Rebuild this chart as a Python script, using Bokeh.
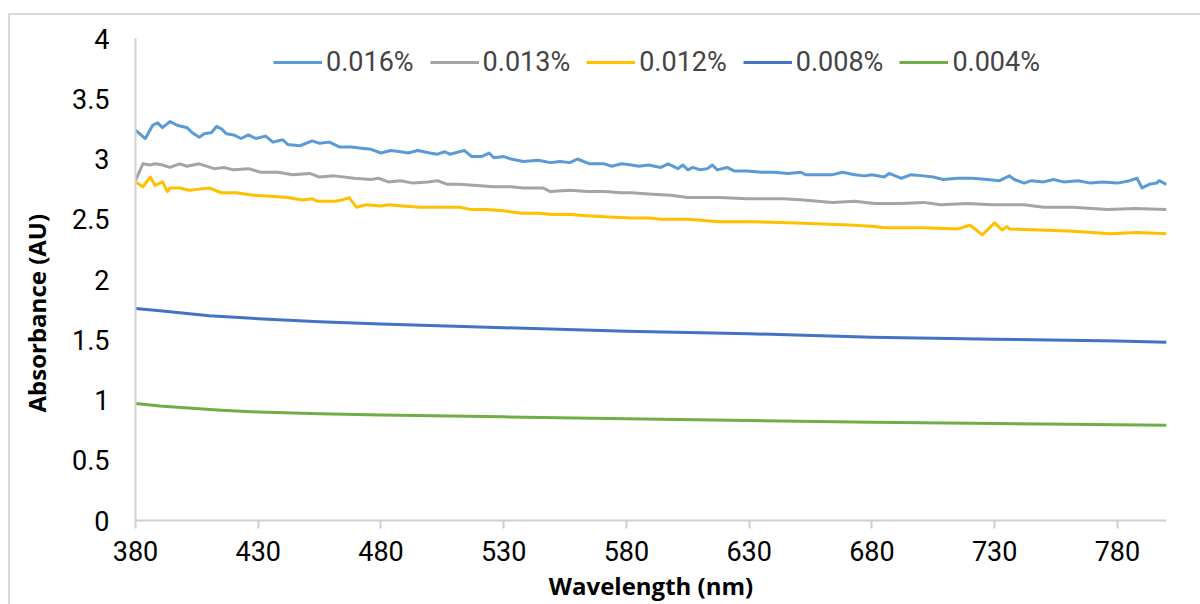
from bokeh.plotting import figure
from bokeh.models import FixedTicker, Legend, LegendItem, Title, Range1d
from bokeh.embed import file_html
from bokeh.resources import INLINE

# ---- data ----
series_names = ["0.016%", "0.013%", "0.012%", "0.008%", "0.004%"]
series_colors = ["#5B9BD5", "#A5A5A5", "#FFC000", "#4472C4", "#70AD47"]
x_ticks = [380, 430, 480, 530, 580, 630, 680, 730, 780]
y_ticks = [0, 0.5, 1, 1.5, 2, 2.5, 3, 3.5, 4]

wl_016 = [380, 384, 387, 389, 391, 394, 397, 401, 403, 406, 408, 411, 413, 415, 417, 420, 423, 426, 429, 433,
          436, 440, 442, 447, 452, 455, 459, 463, 468, 472, 476, 480, 484, 488, 491, 495, 500, 503, 506, 508,
          512, 514, 517, 521, 524, 526, 530, 533, 538, 544, 549, 553, 557, 560, 565, 571, 574, 578, 582, 585,
          589, 594, 597, 601, 603, 605, 607, 610, 613, 615, 617, 621, 624, 629, 635, 640, 646, 651, 653, 660,
          664, 668, 673, 677, 680, 685, 687, 692, 696, 701, 705, 709, 715, 721, 727, 732, 736, 738, 742, 745,
          750, 754, 758, 764, 769, 774, 780, 785, 788, 790, 793, 796, 797, 800]
ab_016 = [3.24, 3.17, 3.28, 3.30, 3.26, 3.31, 3.28, 3.26, 3.22, 3.18, 3.21, 3.22, 3.27, 3.25, 3.21, 3.20, 3.17, 3.20, 3.17, 3.19,
          3.14, 3.16, 3.12, 3.11, 3.15, 3.13, 3.14, 3.10, 3.10, 3.09, 3.08, 3.05, 3.07, 3.06, 3.05, 3.07, 3.05, 3.04, 3.06, 3.04,
          3.06, 3.07, 3.02, 3.02, 3.05, 3.01, 3.02, 3.00, 2.98, 2.99, 2.97, 2.98, 2.97, 3.00, 2.96, 2.96, 2.94, 2.96, 2.95, 2.94,
          2.95, 2.93, 2.96, 2.92, 2.95, 2.91, 2.93, 2.91, 2.92, 2.95, 2.91, 2.93, 2.90, 2.90, 2.89, 2.89, 2.88, 2.89, 2.87, 2.87,
          2.87, 2.89, 2.87, 2.86, 2.87, 2.85, 2.88, 2.84, 2.87, 2.86, 2.85, 2.83, 2.84, 2.84, 2.83, 2.82, 2.86, 2.83, 2.80, 2.82,
          2.81, 2.83, 2.81, 2.82, 2.80, 2.81, 2.80, 2.82, 2.84, 2.76, 2.79, 2.80, 2.82, 2.79]

wl_013 = [380, 383, 386, 388, 391, 394, 398, 401, 406, 412, 416, 420, 426, 431, 438, 444, 451, 455, 461, 469,
          476, 479, 483, 488, 493, 499, 503, 507, 512, 519, 526, 533, 538, 546, 549, 557, 564, 571, 578, 582,
          589, 598, 605, 618, 629, 639, 644, 652, 664, 673, 681, 692, 701, 708, 719, 729, 742, 750, 762, 776,
          787, 800]
ab_013 = [2.82, 2.96, 2.95, 2.96, 2.95, 2.93, 2.96, 2.94, 2.96, 2.92, 2.93, 2.91, 2.92, 2.89, 2.89, 2.87, 2.88, 2.85, 2.86, 2.84,
          2.83, 2.84, 2.81, 2.82, 2.80, 2.81, 2.82, 2.79, 2.79, 2.78, 2.77, 2.77, 2.76, 2.76, 2.73, 2.74, 2.73, 2.73, 2.72, 2.72,
          2.71, 2.70, 2.68, 2.68, 2.67, 2.67, 2.67, 2.66, 2.64, 2.65, 2.63, 2.63, 2.64, 2.62, 2.63, 2.62, 2.62, 2.60, 2.60, 2.58,
          2.59, 2.58]

wl_012 = [380, 383, 386, 388, 391, 393, 394, 398, 402, 406, 410, 415, 421, 428, 435, 442, 448, 452, 454, 461,
          464, 467, 470, 474, 480, 483, 489, 496, 503, 512, 517, 523, 530, 537, 544, 550, 557, 564, 571, 582,
          589, 594, 605, 618, 632, 646, 660, 673, 681, 685, 692, 701, 715, 720, 725, 730, 733, 735, 736, 749,
          762, 777, 788, 800]
ab_012 = [2.81, 2.77, 2.85, 2.78, 2.81, 2.73, 2.76, 2.76, 2.74, 2.75, 2.76, 2.72, 2.72, 2.70, 2.69, 2.68, 2.66, 2.67, 2.65, 2.65,
          2.66, 2.68, 2.60, 2.62, 2.61, 2.62, 2.61, 2.60, 2.60, 2.60, 2.58, 2.58, 2.57, 2.55, 2.55, 2.54, 2.54, 2.53, 2.52, 2.51,
          2.51, 2.50, 2.50, 2.48, 2.48, 2.47, 2.46, 2.45, 2.44, 2.43, 2.43, 2.43, 2.42, 2.45, 2.37, 2.47, 2.41, 2.44, 2.42, 2.41,
          2.40, 2.38, 2.39, 2.38]

wl_008 = [380, 390, 400, 410, 430, 455, 480, 530, 580, 630, 680, 730, 780, 800]
ab_008 = [1.76, 1.74, 1.72, 1.70, 1.675, 1.65, 1.63, 1.60, 1.57, 1.55, 1.52, 1.505, 1.49, 1.48]

wl_004 = [380, 390, 400, 415, 430, 455, 480, 530, 580, 630, 680, 730, 780, 800]
ab_004 = [0.97, 0.95, 0.935, 0.915, 0.90, 0.885, 0.875, 0.86, 0.845, 0.83, 0.815, 0.805, 0.795, 0.79]

FONT = "Roboto"
TITLE_FONT = "Open Sans"
GRAY = "#d0d0d0"

p = figure(width=1200, height=604, x_range=Range1d(380, 800), y_range=Range1d(0, 4),
           output_backend="svg", toolbar_location=None,
           min_border_left=135, min_border_right=34, min_border_top=38, min_border_bottom=83)
# outer chart-area border (top and left edges), drawn behind a transparent canvas border
p.styles = {"background-color": "white",
            "background-image": "linear-gradient(#d9d9d9, #d9d9d9), linear-gradient(#d9d9d9, #d9d9d9)",
            "background-position": "8px 13px, 8px 13px",
            "background-size": "2px 100%, 100% 2px",
            "background-repeat": "no-repeat"}
p.outline_line_color = None
p.background_fill_color = "white"
p.border_fill_color = None
p.xgrid.visible = False
p.ygrid.visible = False

p.xaxis.ticker = FixedTicker(ticks=x_ticks)
p.yaxis.ticker = FixedTicker(ticks=y_ticks)
p.yaxis.major_label_overrides = {v: ("%g" % v) for v in y_ticks}
for ax in (p.xaxis, p.yaxis):
    ax.axis_line_color = GRAY
    ax.axis_line_width = 2
    ax.major_tick_line_color = GRAY
    ax.major_tick_line_width = 2
    ax.minor_tick_line_color = None
    ax.major_label_text_font = FONT
    ax.major_label_text_font_size = "27px"
    ax.major_label_text_color = "black"
p.xaxis.major_tick_out = 8
p.xaxis.major_tick_in = 0
p.yaxis.major_tick_out = 0
p.yaxis.major_tick_in = 0
p.xaxis.major_label_standoff = 12
p.yaxis.major_label_standoff = 26

p.xaxis.axis_label = "Wavelength (nm)"
p.xaxis.axis_label_text_font = TITLE_FONT
p.xaxis.axis_label_text_font_style = "bold"
p.xaxis.axis_label_text_font_size = "24px"
p.xaxis.axis_label_text_color = "black"
p.xaxis.axis_label_standoff = 5

ytitle = Title(text="Absorbance (AU)", align="left", offset=108, standoff=34,
               text_font=TITLE_FONT, text_font_style="bold", text_font_size="24px",
               text_color="black")
p.add_layout(ytitle, "left")

data = [(wl_016, ab_016), (wl_013, ab_013), (wl_012, ab_012), (wl_008, ab_008), (wl_004, ab_004)]
items = []
for (xs, ys), name, color in zip(data, series_names, series_colors):
    r = p.line(xs, ys, line_color=color, line_width=3, line_join="round")
    items.append(LegendItem(label=name, renderers=[r]))

legend = Legend(items=items, orientation="horizontal", location=(138, 442),
                glyph_width=49, glyph_height=30, label_standoff=4, spacing=16, padding=0,
                margin=0, border_line_color=None, background_fill_alpha=0,
                label_text_font=FONT, label_text_font_size="27px", label_height=30)
p.add_layout(legend)

open("out.html", "w").write(file_html(p, INLINE))
